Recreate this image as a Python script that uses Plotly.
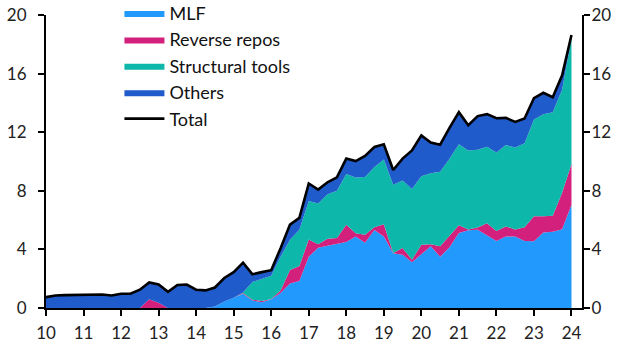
import plotly.graph_objects as go

quarters = [f"{y}Q{q}" for y in range(2010, 2024) for q in range(1, 5)] + ["2024Q1"]
x = [int(s[:4]) + (int(s[-1]) - 1) / 4 for s in quarters]

mlf = [0]*18 + [0.1, 0.45, 0.7, 0.98, 0.52, 0.4, 0.6, 1.02, 1.67, 1.85, 3.5, 4.12, 4.25, 4.37,
               4.5, 4.88, 4.45, 5.32, 4.88, 3.74, 3.64, 3.12, 3.7, 4.22, 3.5, 4.15, 5.12, 5.3,
               5.34, 4.94, 4.58, 4.88, 4.88, 4.58, 4.56, 5.16, 5.2, 5.37, 7.04]
repos = [0]*11 + [0.6, 0.35] + [0]*8 + [0.04, 0.05, 0.08, 0.02, 0.18, 0.93, 1.01, 1.18, 0.23,
                                        0.48, 0.40, 1.19, 0.22, 0.55, 0.2, 0.84, 0.02, 0.46, 0.18,
                                        0.61, 0.14, 0.72, 0.75, 0.53, 0.06, 0.16, 0.84, 0.68, 0.69,
                                        0.48, 0.94, 1.70, 1.10, 1.10, 2.50, 2.79]
structural = [0]*21 + [0.03, 1.21, 1.52, 1.58, 2.3, 2.06, 2.48, 2.62, 2.79, 3.03, 3.23, 3.45,
                       3.8, 3.95, 4.1, 4.41, 4.66, 4.6, 4.82, 4.69, 4.84, 5.08, 5.28, 5.52, 5.39,
                       5.3, 5.22, 5.36, 5.55, 5.6, 5.72, 6.6, 6.96, 7.07, 7.03, 8.57]
total = [0.74, 0.85, 0.88, 0.88, 0.88, 0.92, 0.92, 0.85, 0.97, 0.97, 1.25, 1.75, 1.6, 1.1, 1.57,
         1.6, 1.25, 1.2, 1.4, 2.05, 2.45, 3.1, 2.3, 2.45, 2.58, 4.08, 5.69, 6.15, 8.5, 8.08, 8.58,
         8.92, 10.2, 10.03, 10.38, 10.99, 11.17, 9.42, 10.2, 10.75, 11.78, 11.3, 11.15, 12.3,
         13.37, 12.48, 13.1, 13.23, 12.95, 12.98, 12.7, 12.93, 14.33, 14.69, 14.39, 15.88, 18.64]
others = [round(t - m - r - s, 3) for t, m, r, s in zip(total, mlf, repos, structural)]

tick_years = list(range(2010, 2025))
tick_text = [str(y)[2:] for y in tick_years]
y_ticks = [0, 4, 8, 12, 16, 20]

series = [("MLF", mlf, "#2299FC"), ("Reverse repos", repos, "#D2207C"),
          ("Structural tools", structural, "#0DB7A9"), ("Others", others, "#1F5BCB")]

fig = go.Figure()
for name, vals, col in series:
    fig.add_trace(go.Scatter(x=x, y=vals, name=name, mode="lines", stackgroup="one",
                             line=dict(width=0, color=col), fillcolor=col))
fig.add_trace(go.Scatter(x=x, y=total, name="Total", mode="lines", yaxis="y2",
                         line=dict(width=2.6, color="black")))

font = dict(family="Lato", size=17, color="#222222")
fig.update_layout(
    width=633, height=357,
    margin=dict(l=46, r=51, t=15, b=49, autoexpand=False),
    plot_bgcolor="white", paper_bgcolor="white",
    font=font,
    showlegend=True,
    legend=dict(x=0.137, y=1.069, xanchor="left", yanchor="top", bgcolor="rgba(0,0,0,0)",
                font=dict(family="Lato", size=18, color="#111111"), traceorder="normal",
                itemwidth=40, tracegroupgap=0),
    xaxis=dict(range=[2010, 2024.28], tickvals=tick_years, ticktext=tick_text,
               showline=True, linecolor="black", linewidth=2, ticks="outside", ticklen=6,
               tickwidth=2, tickcolor="black", showgrid=False, zeroline=False,
               ticklabelstandoff=3, automargin=False),
    yaxis=dict(range=[0, 20], tickvals=y_ticks, showline=True, linecolor="black", linewidth=2,
               ticks="outside", ticklen=6, tickwidth=2, tickcolor="black", showgrid=False,
               zeroline=False, ticklabelstandoff=8, automargin=False),
    yaxis2=dict(range=[0, 20], tickvals=y_ticks, overlaying="y", side="right", showline=True,
                linecolor="black", linewidth=2, ticks="outside", ticklen=6, tickwidth=2,
                tickcolor="black", showgrid=False, zeroline=False, automargin=False,
                ticklabelstandoff=-2),
)

fig.write_html("out.html", config={"displayModeBar": False},
               post_script="document.body.style.margin='0px';")
